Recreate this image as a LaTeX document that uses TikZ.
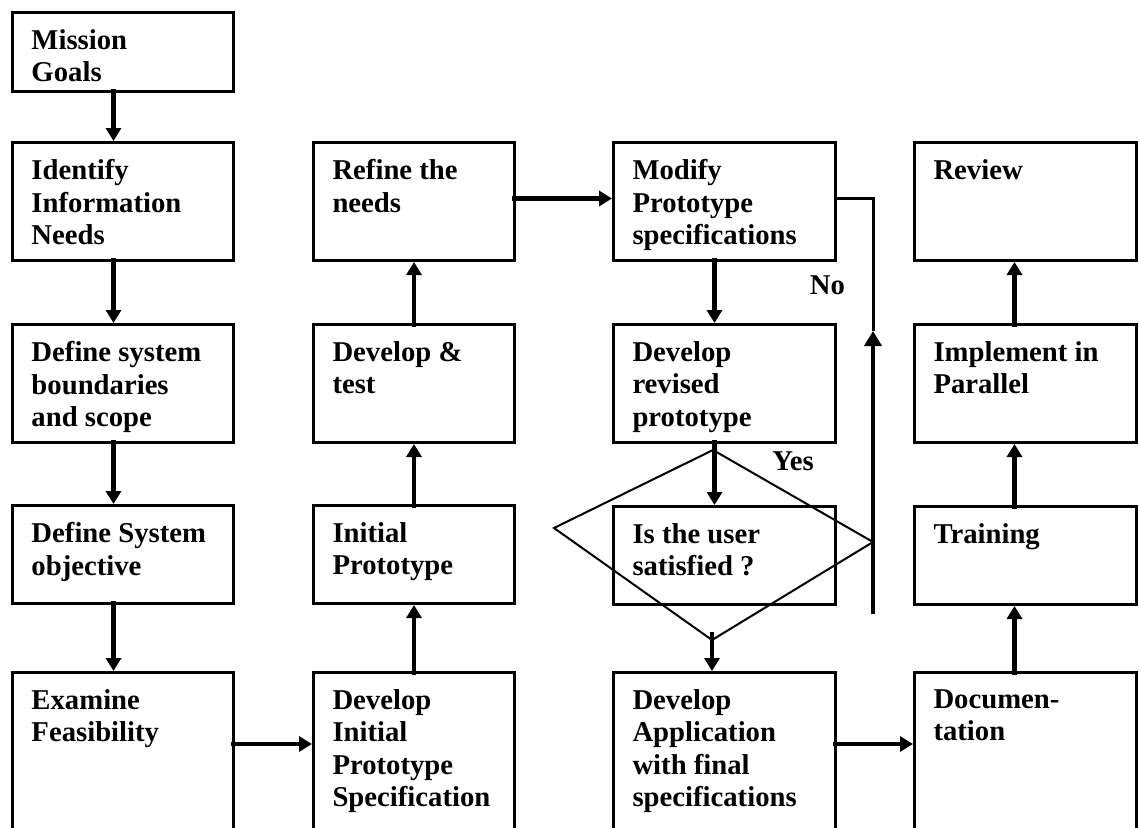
\documentclass[tikz,border=0pt]{standalone}
\usepackage{fontspec}
\setmainfont{Liberation Serif}
\usetikzlibrary{arrows.meta}

% box contents: width, height, lines of text set from the top-left corner
\newcommand\cell[3]{\parbox[c][#2][t]{#1}{\parindent=0pt\leftskip=19pt\rightskip=0pt plus 1fil\vspace*{17pt}#3\par}}

\begin{document}
\begin{tikzpicture}[x=1pt,y=-1pt,
  every node/.style={font=\bfseries\fontsize{28.7}{32.3}\selectfont},
  box/.style={draw, line width=3pt, inner sep=0pt, anchor=north west},
  ar/.style={line width=4.5pt, shorten <=-4pt, -{Triangle[length=13pt,width=15pt]}},
  tag/.style={anchor=base, inner sep=0pt}]

\clip (0,0) rectangle (1139,827);
\fill[white] (0,0) rectangle (1139,827);

% column 1
\node[box] (mission)  at (11,11)  {\cell{221pt}{79pt}{Mission\\Goals}};
\node[box] (identify) at (11,141) {\cell{221pt}{118pt}{Identify\\Information\\Needs}};
\node[box] (scope)    at (11,323) {\cell{221pt}{118pt}{Define system\\boundaries\\and scope}};
\node[box] (objective) at (11,504) {\cell{221pt}{98pt}{Define System\\objective}};
\node[box] (examine)  at (11,671) {\cell{221pt}{220pt}{Examine\\Feasibility}};

% column 2
\node[box] (refine)   at (312,141) {\cell{201pt}{118pt}{Refine the\\needs}};
\node[box] (devtest)  at (312,323) {\cell{201pt}{118pt}{Develop \&\\test}};
\node[box] (initproto) at (312,504) {\cell{201pt}{98pt}{Initial\\Prototype}};
\node[box] (devinit)  at (312,671) {\cell{201pt}{220pt}{Develop\\Initial\\Prototype\\Specification}};

% column 3
\node[box] (modify)   at (612,141) {\cell{222pt}{118pt}{Modify\\Prototype\\specifications}};
\node[box] (revised)  at (612,323) {\cell{222pt}{118pt}{Develop\\revised\\prototype}};
\node[box] (satisfied) at (612,505) {\cell{222pt}{98pt}{Is the user\\satisfied ?}};
\node[box] (devapp)   at (612,671) {\cell{222pt}{220pt}{Develop\\Application\\with final\\specifications}};

% column 4
\node[box] (review)   at (913,141) {\cell{222pt}{118pt}{Review}};
\node[box] (implement) at (913,323) {\cell{222pt}{118pt}{Implement in\\Parallel}};
\node[box] (training) at (913,505) {\cell{222pt}{98pt}{Training}};
\node[box] (docu)     at (913,671) {\cell{222pt}{220pt}{Documen-\\tation}};

% decision diamond around the question box
\coordinate (dtop)   at (713,450);
\coordinate (dleft)  at (554,528);
\coordinate (dbot)   at (712,640);
\coordinate (dright) at (873,542);
\draw[line width=2pt, line join=miter] (dtop) -- (dleft) -- (dbot) -- (dright) -- cycle;

% column 1 flow (downwards)
\draw[ar] ([xshift=-9.5pt]mission.south)   -- ([xshift=-9.5pt]identify.north);
\draw[ar] ([xshift=-9.5pt]identify.south)  -- ([xshift=-9.5pt]scope.north);
\draw[ar] ([xshift=-9.5pt]scope.south)     -- ([xshift=-9.5pt]objective.north);
\draw[ar] ([xshift=-9.5pt]objective.south) -- ([xshift=-9.5pt]examine.north);

% across to column 2
\draw[ar] ([yshift=-73pt]examine.north east) -- ([yshift=-73pt]devinit.north west);

% column 2 flow (upwards)
\draw[ar] (devinit.north)   -- (initproto.south);
\draw[ar] (initproto.north) -- (devtest.south);
\draw[ar] (devtest.north)   -- (refine.south);

% across to column 3
\draw[ar] ([yshift=3pt]refine.east) -- ([yshift=3pt]modify.west);

% column 3 flow (downwards)
\draw[ar] ([xshift=-10pt]modify.south)  -- ([xshift=-10pt]revised.north);
\draw[ar] ([xshift=-10pt]revised.south) -- ([xshift=-10pt]satisfied.north);
\draw[ar, shorten <=-8pt] (dbot) -- (dbot |- devapp.north);

% "No" loop back to the prototype specifications
\coordinate (loopbot) at (873,614);
\coordinate (looptip) at (873,331);
\draw[line width=3pt] (looptip) |- ([yshift=3pt]modify.east);
\draw[line width=4.5pt, -{Triangle[length=15pt,width=17pt]}] (loopbot) -- (looptip);

% across to column 4
\draw[ar] ([yshift=-73pt]devapp.north east) -- ([yshift=-73pt]docu.north west);

% column 4 flow (upwards)
\draw[ar] ([xshift=-11pt]docu.north)      -- ([xshift=-11pt]training.south);
\draw[ar] ([xshift=-11pt]training.north)  -- ([xshift=-11pt]implement.south);
\draw[ar] ([xshift=-11pt]implement.north) -- ([xshift=-11pt]review.south);

% decision labels
\node[tag] (yes) at (793,470) {Yes};
\node[tag] (no)  at (827.5,294) {No};
\end{tikzpicture}
\end{document}
